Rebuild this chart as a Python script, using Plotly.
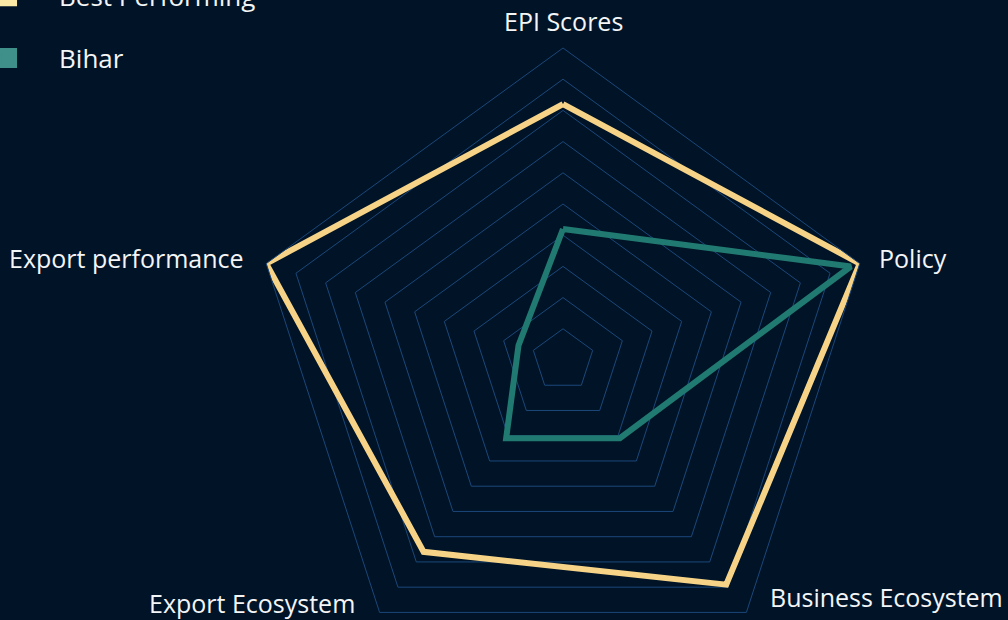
import plotly.graph_objects as go

FIG_W = 1008
FIG_H = 680
BG_COLOR = "#011427"
GRID_COLOR = "#1b477a"
TEXT_COLOR = "#f4f5f7"
FONT = "Open Sans"

categories = ["EPI Scores", "Policy", "Business Ecosystem", "Export Ecosystem", "Export performance"]
best_performing = [8.2, 10.0, 8.9, 7.6, 10.0]
bihar = [4.2, 9.7, 3.1, 3.1, 1.5]

series = [
    {"name": "Best Performing", "values": best_performing, "line": "#f6d386", "legend": "#fde9a6"},
    {"name": "Bihar", "values": bihar, "line": "#217a71", "legend": "#3f8f8a"},
]

# where each axis label sits (pixel centre in the page), same order as categories
label_pos = [(563, 21), (913, 258), (886, 597), (252, 603), (126, 258)]

fig = go.Figure()

for s in series:
    # close the polygon by repeating the first point
    fig.add_trace(go.Scatterpolar(
        r=s["values"] + s["values"][:1],
        theta=categories + categories[:1],
        mode="lines",
        line=dict(color=s["line"], width=6),
        name=s["name"],
        showlegend=False,
        hoverinfo="skip",
    ))

# legend-only entries with square swatches
for s in series:
    fig.add_trace(go.Scatterpolar(
        r=[None],
        theta=[None],
        mode="markers",
        marker=dict(symbol="square", size=16, color=s["legend"],
                    line=dict(color=s["legend"], width=4)),
        name=s["name"],
        legendgroup=s["name"],
    ))

for text, (px, py) in zip(categories, label_pos):
    fig.add_annotation(
        text=text,
        x=px / FIG_W,
        y=1 - py / FIG_H,
        xref="paper",
        yref="paper",
        xanchor="center",
        yanchor="middle",
        showarrow=False,
        font=dict(family=FONT, size=25, color=TEXT_COLOR),
    )

fig.update_layout(
    width=FIG_W,
    height=FIG_H,
    margin=dict(l=0, r=0, t=0, b=0, autoexpand=False),
    paper_bgcolor=BG_COLOR,
    plot_bgcolor=BG_COLOR,
    font=dict(family=FONT, color=TEXT_COLOR, size=25),
    polar=dict(
        domain=dict(x=[251 / FIG_W, 875 / FIG_W], y=[1 - 672 / FIG_H, 1 - 48 / FIG_H]),
        bgcolor=BG_COLOR,
        gridshape="linear",
        radialaxis=dict(
            range=[0, 10],
            dtick=1,
            showline=False,
            showticklabels=False,
            ticks="",
            gridcolor=GRID_COLOR,
            gridwidth=1,
        ),
        angularaxis=dict(
            direction="clockwise",
            rotation=90,
            showgrid=False,
            showline=True,
            linecolor=GRID_COLOR,
            linewidth=1,
            ticks="",
            showticklabels=False,
        ),
    ),
    legend=dict(
        x=-0.0446,
        y=1.04,
        xanchor="left",
        yanchor="top",
        traceorder="grouped",
        tracegroupgap=25,
        itemwidth=94,
        font=dict(family=FONT, size=26, color=TEXT_COLOR),
        bgcolor="rgba(0,0,0,0)",
    ),
)

fig.write_html("out.html", config={"displayModeBar": False},
               post_script="document.body.style.margin='0';")
